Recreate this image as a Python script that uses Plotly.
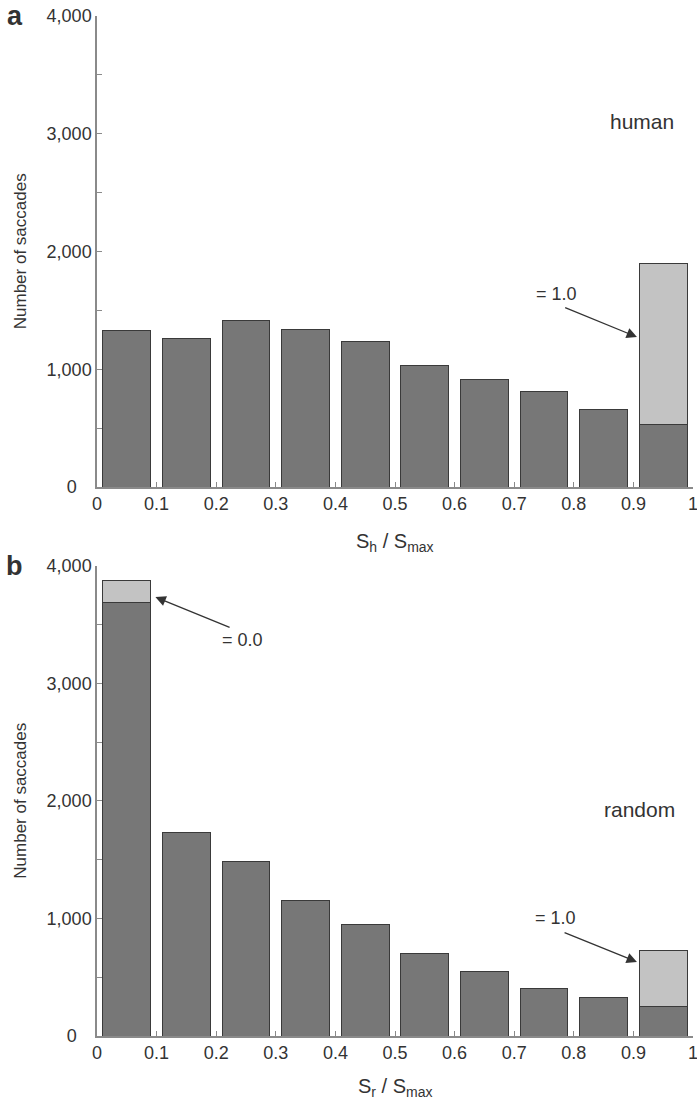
import plotly.graph_objects as go

# Bin edges of the normalised saliency histogram (10 bins of width 0.1)
bin_lo = [0.0, 0.1, 0.2, 0.3, 0.4, 0.5, 0.6, 0.7, 0.8, 0.9]
tick_vals_x = [0, 0.1, 0.2, 0.3, 0.4, 0.5, 0.6, 0.7, 0.8, 0.9, 1.0]
tick_text_x = ["0", "0.1", "0.2", "0.3", "0.4", "0.5", "0.6", "0.7", "0.8", "0.9", "1"]
tick_vals_y = [0, 500, 1000, 1500, 2000, 2500, 3000, 3500, 4000]
tick_text_y = ["0\u00a0\u00a0\u00a0", "", "1,000", "", "2,000", "", "3,000", "", "4,000"]

# a: human saccades
human_counts = [1333, 1265, 1418, 1342, 1240, 1036, 909, 815, 655, 527]
human_eq_one_bin = [0.9]
human_eq_one = [1373]

# b: random saccades
random_counts = [3685, 1736, 1481, 1157, 953, 698, 553, 408, 326, 250]
random_eq_zero_bin = [0.0]
random_eq_zero = [190]
random_eq_one_bin = [0.9]
random_eq_one = [476]

BIN_W = 0.1
BAR_W = 0.08
DARK = "#777777"
LIGHT = "#c3c3c3"
EDGE = "#3a3a3a"
AXIS = "#8a8a8a"
TXT = "#333333"
FONT = "Liberation Sans, Arial, sans-serif"


def centers(lo):
    return [v + BIN_W / 2 for v in lo]


def bar(lo, vals, color, xa, ya):
    return go.Bar(
        x=centers(lo), y=vals, width=BAR_W, xaxis=xa, yaxis=ya,
        marker=dict(color=color, line=dict(color=EDGE, width=1)),
        hoverinfo="skip",
    )


fig = go.Figure()
fig.add_trace(bar(bin_lo, human_counts, DARK, "x", "y"))
fig.add_trace(bar(human_eq_one_bin, human_eq_one, LIGHT, "x", "y"))
fig.add_trace(bar(bin_lo, random_counts, DARK, "x2", "y2"))
fig.add_trace(bar(random_eq_zero_bin, random_eq_zero, LIGHT, "x2", "y2"))
fig.add_trace(bar(random_eq_one_bin, random_eq_one, LIGHT, "x2", "y2"))

xcommon = dict(
    range=[0, 1], tickmode="array", tickvals=tick_vals_x, ticktext=tick_text_x,
    ticks="inside", ticklen=5, tickwidth=1, tickcolor=AXIS,
    showline=True, linecolor=AXIS, linewidth=1.5,
    showgrid=False, zeroline=False, fixedrange=True, automargin=False,
    ticklabeloverflow="allow",
    tickfont=dict(family=FONT, size=18, color=TXT),
)
ycommon = dict(
    range=[0, 4000], tickmode="array", tickvals=tick_vals_y, ticktext=tick_text_y,
    ticks="inside", ticklen=5, tickwidth=1, tickcolor=AXIS,
    showline=True, linecolor=AXIS, linewidth=1.5,
    showgrid=False, zeroline=False, fixedrange=True, automargin=False,
    tickfont=dict(family=FONT, size=18, color=TXT),
)

fig.update_layout(
    width=697, height=1105,
    margin=dict(l=97, r=4, t=16, b=69, autoexpand=False),
    paper_bgcolor="white", plot_bgcolor="white",
    barmode="stack", showlegend=False,
    font=dict(family=FONT, color=TXT),
    xaxis=dict(domain=[0, 1], anchor="y", **xcommon),
    yaxis=dict(domain=[0.5382, 1], anchor="x", **ycommon),
    xaxis2=dict(domain=[0, 1], anchor="y2", **xcommon),
    yaxis2=dict(domain=[0, 0.4608], anchor="x2", **ycommon),
)

txt = dict(family=FONT, size=18, color=TXT)
ann = []

# panel letters
ann.append(dict(text="<b>a</b>", xref="paper", yref="paper", x=-0.138, y=1.0,
                xanchor="center", yanchor="middle", showarrow=False,
                font=dict(family=FONT, size=27, color=TXT)))
ann.append(dict(text="<b>b</b>", xref="paper", yref="paper", x=-0.138, y=0.4608,
                xanchor="center", yanchor="middle", showarrow=False,
                font=dict(family=FONT, size=27, color=TXT)))

# y-axis titles
for yc in [(0.5382 + 1) / 2, 0.4608 / 2]:
    ann.append(dict(text="Number of saccades", xref="paper", yref="paper",
                    x=-0.128, y=yc, textangle=-90, xanchor="center", yanchor="middle",
                    showarrow=False, font=dict(family=FONT, size=17, color=TXT)))

# x-axis titles
xtitle_font = dict(family=FONT, size=20, color=TXT)
ann.append(dict(text="S<sub>h</sub> / S<sub>max</sub>", xref="paper", yref="paper",
                x=0.5, y=0.5382, yshift=-55, xanchor="center", yanchor="middle",
                showarrow=False, font=xtitle_font))
ann.append(dict(text="S<sub>r</sub> / S<sub>max</sub>", xref="paper", yref="paper",
                x=0.5, y=0.0, yshift=-51, xanchor="center", yanchor="middle",
                showarrow=False, font=xtitle_font))

# condition labels
ann.append(dict(text="human", xref="x", yref="y", x=0.915, y=3100,
                xanchor="center", yanchor="middle", showarrow=False,
                font=dict(family=FONT, size=21, color=TXT)))
ann.append(dict(text="random", xref="x2", yref="y2", x=0.91, y=1930,
                xanchor="center", yanchor="middle", showarrow=False,
                font=dict(family=FONT, size=21, color=TXT)))

# callouts
def callout(xr, yr, label, lx, ly, tx, ty, hx, hy):
    ann.append(dict(text=label, xref=xr, yref=yr, x=lx, y=ly, showarrow=False,
                    xanchor="center", yanchor="middle", font=txt))
    ann.append(dict(text="", xref=xr, yref=yr, axref=xr, ayref=yr,
                    x=hx, y=hy, ax=tx, ay=ty, showarrow=True,
                    arrowhead=2, arrowsize=1.6, arrowwidth=1.3, arrowcolor="#333333"))

callout("x", "y", "= 1.0", 0.771, 1639, 0.783, 1529, 0.906, 1274)
callout("x2", "y2", "= 0.0", 0.244, 3370, 0.225, 3472, 0.098, 3736)
callout("x2", "y2", "= 1.0", 0.770, 1004, 0.782, 885, 0.906, 630)

fig.update_layout(annotations=ann)

fig.write_html("out.html")
